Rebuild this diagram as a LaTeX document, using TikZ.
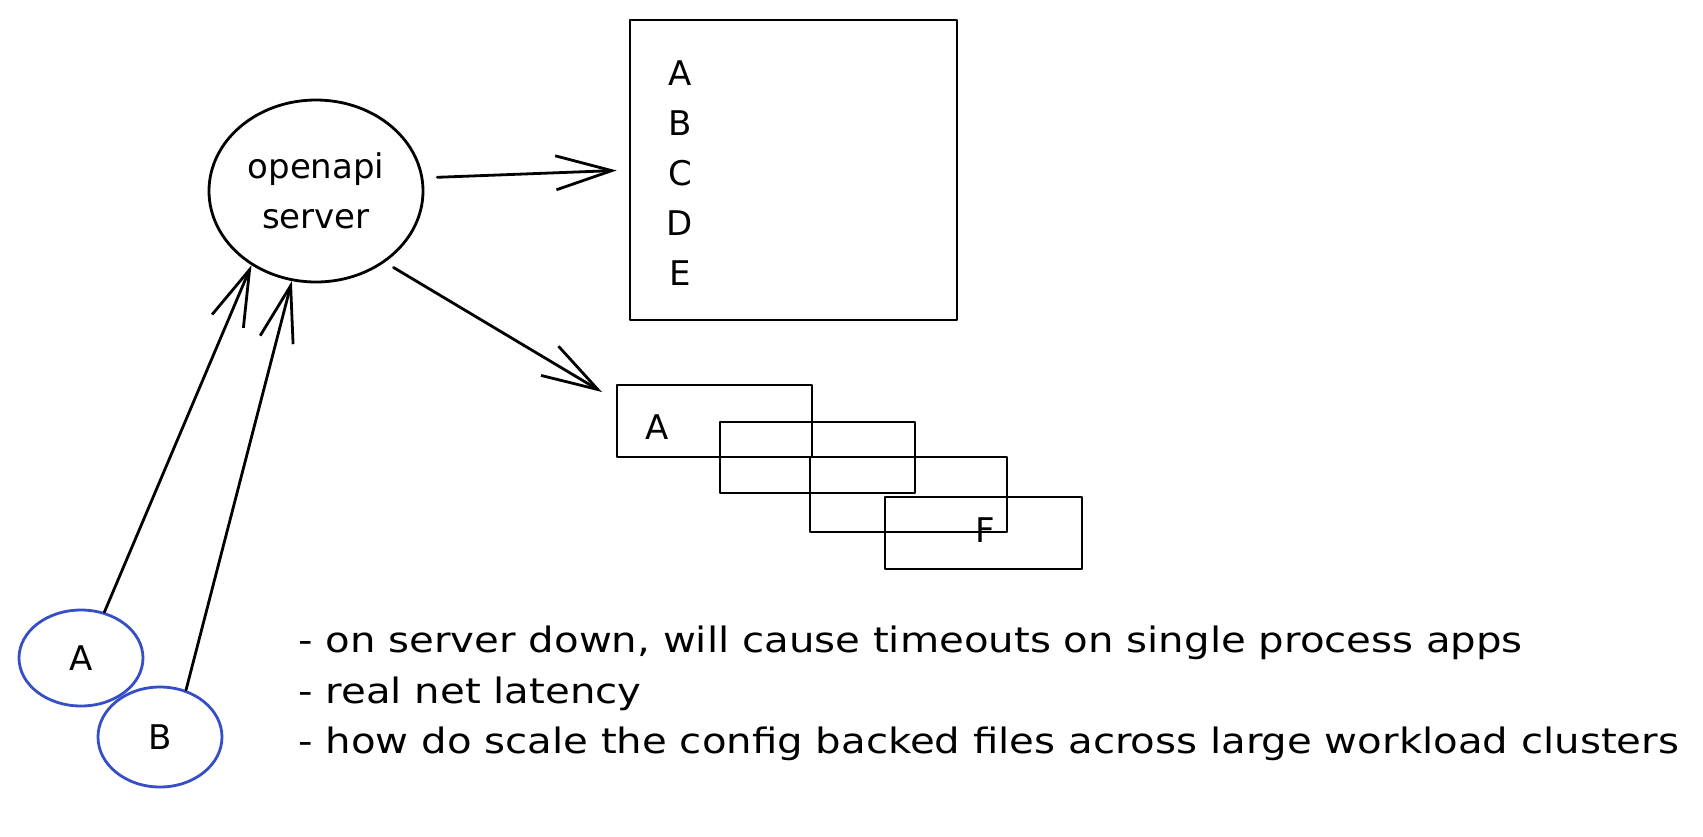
\documentclass[tikz,border=0pt]{standalone}
\usepackage{fontspec}
\setmainfont{DejaVu Sans}
\newfontfamily\notefont[FakeStretch=1.15]{DejaVu Sans}
\usetikzlibrary{arrows.meta,shapes.geometric,calc}
\definecolor{sketchblue}{RGB}{54,79,199}
\begin{document}
\begin{tikzpicture}[x=0.5pt,y=-0.5pt,
  stroke/.style={line width=1.4pt, line cap=round, line join=round},
  bubble/.style={stroke, draw, ellipse, inner sep=0pt},
  box/.style={stroke, draw, rectangle, inner sep=0pt},
  arr/.style={stroke, -{Straight Barb[length=28pt,width=17pt,line width=1.4pt]}},
  lbl/.style={font=\fontsize{17pt}{25pt}\selectfont},
  note/.style={font=\notefont\fontsize{17.5pt}{20pt}\selectfont, anchor=base west, inner sep=0pt}]
\fill[white] (0,0) rectangle (1703,836);
\useasboundingbox (0,0) rectangle (1703,836);

% server
\node[bubble, minimum width=107pt, minimum height=91pt, align=center, lbl] (srv) at (316,191) {openapi\\server};

% big list box
\node[box, minimum width=163.5pt, minimum height=150pt] (list) at (793.5,170) {};
\node[lbl, align=center] (letters) at (680,173) {A\\B\\C\\D\\E};

% stacked rectangles
\node[box, minimum width=97.5pt, minimum height=36pt] (r1) at (714.5,421) {};
\node[box, minimum width=97.5pt, minimum height=35.5pt] (r2) at (817.5,457.5) {};
\node[box, minimum width=98.5pt, minimum height=37.5pt] (r3) at (908.5,494.5) {};
\node[box, minimum width=98.5pt, minimum height=36pt] (r4) at (983.5,533) {};
\node[lbl] (ra) at (657,427) {A};
\node[lbl] (rf) at (985,530) {F};

% client bubbles
\node[bubble, draw=sketchblue, minimum width=62pt, minimum height=48pt, lbl] (ca) at (81,658) {A};
\node[bubble, draw=sketchblue, minimum width=62pt, minimum height=50pt, lbl] (cb) at (160,737) {B};

% connectors
\coordinate (tip2) at (602,392);
\draw[arr, shorten <=7pt, shorten >=6pt] (srv.7) -- (list.west);
\draw[arr, shorten <=5pt] (srv.-46) -- (tip2);
\draw[arr] (ca.63) -- (srv.229);
\draw[arr] (cb.61) -- (srv.255);

% notes
\node[note] (n1) at (298,652) {- on server down, will cause timeouts on single process apps};
\node[note] (n2) at (298,703) {- real net latency};
\node[note] (n3) at (298,753) {- how do scale the config backed files across large workload clusters};
\end{tikzpicture}
\end{document}
